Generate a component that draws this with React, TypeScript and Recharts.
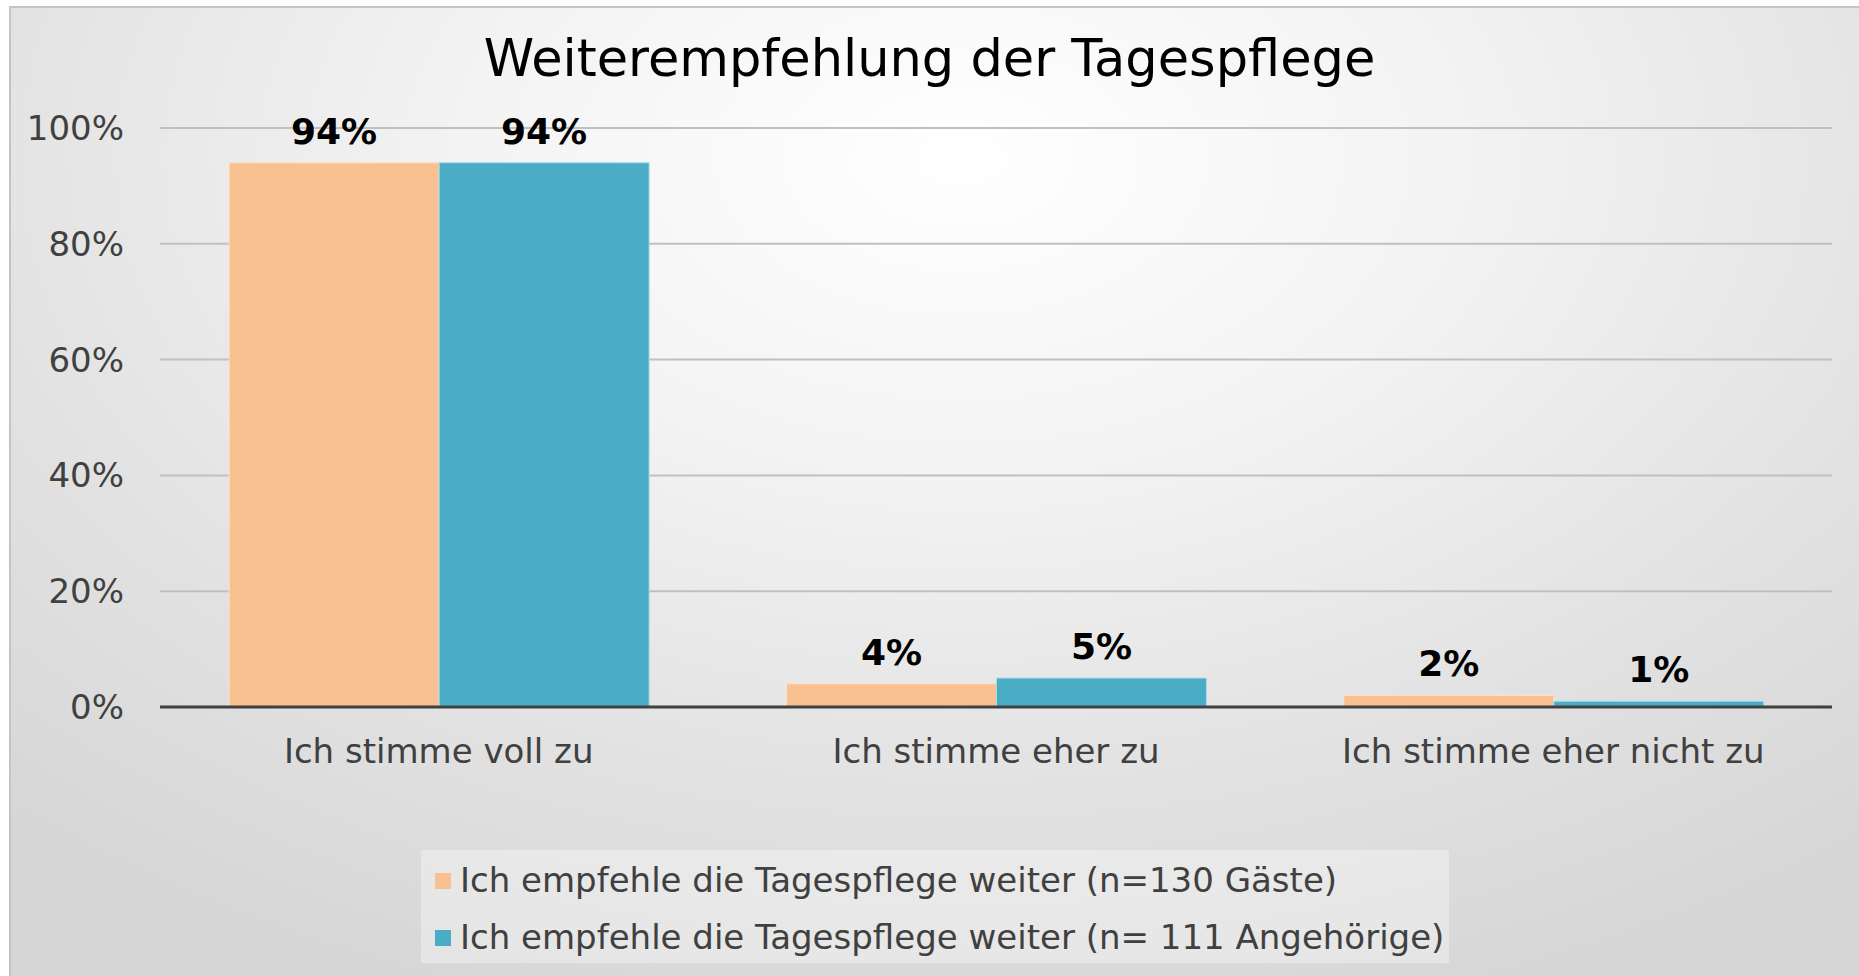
import React from 'react';
import { BarChart, Bar, XAxis, YAxis, CartesianGrid, LabelList } from 'recharts';

const categories = ['Ich stimme voll zu', 'Ich stimme eher zu', 'Ich stimme eher nicht zu'];
const gaeste = [94, 4, 2];
const angehoerige = [94, 5, 1];
const yTicks = [0, 20, 40, 60, 80, 100];
const seriesNames = [
  'Ich empfehle die Tagespflege weiter (n=130 Gäste)',
  'Ich empfehle die Tagespflege weiter (n= 111 Angehörige)',
];
const seriesColors = ['#F9C191', '#4BACC6'];

const FONT = '"DejaVu Sans", Verdana, sans-serif';

const chartData = categories.map((name, i) => ({
  name,
  gaeste: gaeste[i],
  angehoerige: angehoerige[i],
}));

// Legend box like the office chart
const LegendBox = () => (
  <div
    style={{
      position: 'absolute',
      left: 421,
      top: 850,
      width: 1028,
      height: 113,
      boxSizing: 'border-box',
      background: 'rgba(255,255,255,0.35)',
      padding: '2px 0 0 14px',
      fontFamily: FONT,
      fontSize: 34,
      color: '#404040',
      lineHeight: '57px',
      whiteSpace: 'nowrap',
    }}
  >
    {seriesNames.map((n, i) => (
      <div key={n} style={{ display: 'flex', alignItems: 'center' }}>
        <span style={{ width: 16, height: 16, background: seriesColors[i], marginRight: 9, display: 'inline-block' }} />
        <span>{n}</span>
      </div>
    ))}
  </div>
);

export default function App() {
  return (
    <div
      style={{
        position: 'absolute',
        left: 0,
        top: 0,
        width: 1859,
        height: 976,
        overflow: 'hidden',
        background: '#fff',
      }}
    >
      <div
        style={{
          position: 'absolute',
          left: 9,
          top: 6,
          width: 1900,
          height: 1000,
          border: '2px solid #c4c4c4',
          background: 'radial-gradient(ellipse 75% 90% at 50% 15%, #ffffff 0%, #f3f3f3 35%, #e2e2e2 70%, #d6d6d6 100%)',
        }}
      />
      <div
        style={{
          position: 'absolute',
          left: 0,
          top: 29,
          width: 1859,
          textAlign: 'center',
          fontFamily: FONT,
          fontSize: 51,
          color: '#000',
        }}
      >
        Weiterempfehlung der Tagespflege
      </div>
      <div style={{ position: 'absolute', left: 0, top: 0 }}>
        <BarChart
          width={1859}
          height={976}
          data={chartData}
          margin={{ top: 128, right: 27, left: 0, bottom: 209 }}
          barCategoryGap="12.4%"
          barGap={0}
        >
          <CartesianGrid vertical={false} stroke="#c0c0c0" strokeWidth={2} />
          <XAxis
            dataKey="name"
            height={60}
            axisLine={{ stroke: '#404040', strokeWidth: 3 }}
            tickLine={false}
            tickSize={0}
            tickMargin={32}
            tick={{ fontSize: 34, fill: '#404040', fontFamily: FONT }}
            interval={0}
          />
          <YAxis
            width={160}
            domain={[0, 100]}
            ticks={yTicks}
            axisLine={false}
            tickLine={false}
            tickSize={0}
            tickMargin={36}
            tickFormatter={(v: number) => `${v}%`}
            tick={{ fontSize: 34, fill: '#404040', fontFamily: FONT }}
          />
          <Bar dataKey="gaeste" name={seriesNames[0]} fill={seriesColors[0]} stroke="#fde3cc" strokeWidth={1} isAnimationActive={false}>
            <LabelList
              dataKey="gaeste"
              position="top"
              offset={19}
              formatter={(v: any) => `${v}%`}
              style={{ fontSize: 36, fontWeight: 'bold', fill: '#000', fontFamily: FONT }}
            />
          </Bar>
          <Bar dataKey="angehoerige" name={seriesNames[1]} fill={seriesColors[1]} stroke="#a9dbe8" strokeWidth={1} isAnimationActive={false}>
            <LabelList
              dataKey="angehoerige"
              position="top"
              offset={19}
              formatter={(v: any) => `${v}%`}
              style={{ fontSize: 36, fontWeight: 'bold', fill: '#000', fontFamily: FONT }}
            />
          </Bar>
        </BarChart>
      </div>
      <LegendBox />
    </div>
  );
}
